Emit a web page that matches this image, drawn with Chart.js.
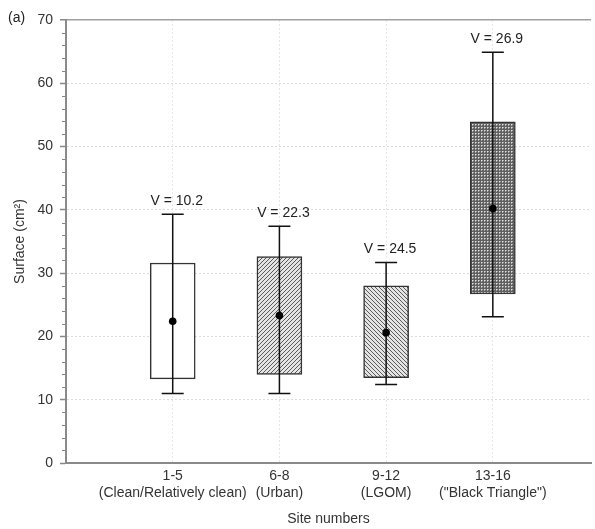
<!DOCTYPE html>
<html><head><meta charset="utf-8">
<script src="https://cdn.jsdelivr.net/npm/chart.js@4"></script>
<style>html,body{margin:0;padding:0;background:#fff}#wrap{width:595px;height:529px;position:relative}</style>
</head><body><div id="wrap"><canvas id="c" width="595" height="529"></canvas></div>
<script>
const categories = ['1-5', '6-8', '9-12', '13-16'];
const groupNames = ['(Clean/Relatively clean)', '(Urban)', '(LGOM)', '("Black Triangle")'];
const boxLow = [13.3, 14.0, 13.5, 26.7];
const boxHigh = [31.6, 32.6, 28.0, 53.9];
const whiskerLow = [11.0, 11.0, 12.4, 23.1];
const whiskerHigh = [39.3, 37.4, 31.7, 64.9];
const means = [22.4, 23.3, 20.6, 40.2];
const vLabels = ['V = 10.2', 'V = 22.3', 'V = 24.5', 'V = 26.9'];
const yTicks = [0, 10, 20, 30, 40, 50, 60, 70];
const yMinorTicks = [2,4,6,8,12,14,16,18,22,24,26,28,32,34,36,38,42,44,46,48,52,54,56,58,62,64,66,68];

const FONT = 'Liberation Sans, Arial, sans-serif';

function hatch(dir) {
  const s = 4;
  const c = document.createElement('canvas'); c.width = c.height = s;
  const g = c.getContext('2d');
  g.fillStyle = '#e4e4e4'; g.fillRect(0, 0, s, s);
  g.strokeStyle = '#5a5a5a'; g.lineWidth = 1;
  g.beginPath();
  if (dir > 0) {
    g.moveTo(0, s); g.lineTo(s, 0);
    g.moveTo(-1, 1); g.lineTo(1, -1);
    g.moveTo(s - 1, s + 1); g.lineTo(s + 1, s - 1);
  } else {
    g.moveTo(0, 0); g.lineTo(s, s);
    g.moveTo(-1, s - 1); g.lineTo(1, s + 1);
    g.moveTo(s - 1, -1); g.lineTo(s + 1, 1);
  }
  g.stroke();
  return g.createPattern(c, 'repeat');
}
function mesh() {
  const c = document.createElement('canvas'); c.width = c.height = 3;
  const g = c.getContext('2d');
  g.fillStyle = '#606060'; g.fillRect(0, 0, 3, 3);
  g.fillStyle = '#e0e0e0'; g.fillRect(1, 1, 1, 1);
  g.fillStyle = '#a8a8a8'; g.fillRect(2, 1, 1, 1); g.fillRect(1, 2, 1, 1);
  return g.createPattern(c, 'repeat');
}
const fills = ['#ffffff', hatch(1), hatch(-1), mesh()];

const extras = {
  id: 'extras',
  afterDatasetDraw(chart, args) {
    if (args.index !== 1) return;
    const ctx = chart.ctx, x = chart.scales.x, y = chart.scales.y;
    ctx.save();
    ctx.strokeStyle = '#111'; ctx.lineWidth = 1.5;
    categories.forEach((c, i) => {
      const px = x.getPixelForValue(i + 1);
      const lo = y.getPixelForValue(whiskerLow[i]);
      const hi = y.getPixelForValue(whiskerHigh[i]);
      ctx.beginPath();
      ctx.moveTo(px, lo); ctx.lineTo(px, hi);
      ctx.moveTo(px - 11, lo); ctx.lineTo(px + 11, lo);
      ctx.moveTo(px - 11, hi); ctx.lineTo(px + 11, hi);
      ctx.stroke();
      ctx.fillStyle = '#222';
      ctx.font = '14px ' + FONT;
      ctx.textAlign = 'center'; ctx.textBaseline = 'middle';
      ctx.fillText(vLabels[i], px + 4, hi - 13.5);
    });
    ctx.restore();
  },
  afterDraw(chart) {
    const ctx = chart.ctx, y = chart.scales.y;
    const left = chart.chartArea.left;
    ctx.save();
    ctx.strokeStyle = '#888'; ctx.lineWidth = 1;
    ctx.beginPath();
    yMinorTicks.forEach(v => {
      const py = Math.round(y.getPixelForValue(v)) + 0.5;
      ctx.moveTo(left - 4, py); ctx.lineTo(left, py);
    });
    ctx.stroke();
    ctx.fillStyle = '#222';
    ctx.font = '14px ' + FONT;
    ctx.textAlign = 'left'; ctx.textBaseline = 'middle';
    ctx.fillText('(a)', 8, 18);
    ctx.restore();
  }
};

new Chart(document.getElementById('c'), {
  type: 'bar',
  data: {
    datasets: [
      {
        type: 'scatter',
        data: means.map((m, i) => ({ x: i + 1, y: m })),
        pointRadius: 3.8, backgroundColor: '#000', borderColor: '#000', borderWidth: 0,
        order: 0
      },
      {
        type: 'bar',
        data: categories.map((c, i) => ({ x: i + 1, y: [boxLow[i], boxHigh[i]] })),
        backgroundColor: fills,
        borderColor: '#333', borderWidth: 1.5, borderSkipped: false,
        barThickness: 45,
        order: 2
      }
    ]
  },
  options: {
    responsive: false, animation: false,
    layout: { padding: { left: 0, top: 20, right: 0, bottom: 0 } },
    plugins: { legend: { display: false }, tooltip: { enabled: false } },
    scales: {
      x: {
        type: 'linear', min: 0, max: 4.92, offset: false,
        afterBuildTicks: s => { s.ticks = categories.map((c, i) => ({ value: i + 1 })); },
        afterFit: s => { s.height = 66; },
        ticks: {
          autoSkip: false, maxRotation: 0, padding: 5, color: '#333',
          font: { family: FONT, size: 14 },
          callback: v => [categories[v - 1], groupNames[v - 1]]
        },
        grid: { color: '#e6e6e6', lineWidth: 1, drawTicks: false, offset: false },
        border: { color: '#8a8a8a', width: 2, dash: ctx => (ctx.tick ? [2, 2] : []) },
        title: { display: true, text: 'Site numbers', color: '#333', font: { family: FONT, size: 14 }, padding: { top: 0, bottom: 1.6 } }
      },
      y: {
        min: 0, max: 70,
        afterBuildTicks: s => { s.ticks = yTicks.map(v => ({ value: v })); },
        afterFit: s => { s.width = 66; },
        ticks: { padding: 7, color: '#333', font: { family: FONT, size: 14 } },
        grid: {
          color: ctx => ctx.tick.value === 70 ? '#a0a0a0' : (ctx.tick.value === 0 ? 'rgba(0,0,0,0)' : '#dcdcdc'),
          lineWidth: ctx => ctx.tick.value === 70 ? 1.5 : 1,
          tickColor: '#888', tickLength: 6, tickWidth: 1.5
        },
        border: { color: '#8a8a8a', width: 2, dash: ctx => (ctx.tick && ctx.tick.value !== 70 ? [2, 2] : []) },
        title: { display: true, text: 'Surface (cm²)', color: '#333', font: { family: FONT, size: 14 }, padding: { top: 11.6, bottom: 0 } }
      }
    }
  },
  plugins: [extras]
});
</script>
</body></html>
